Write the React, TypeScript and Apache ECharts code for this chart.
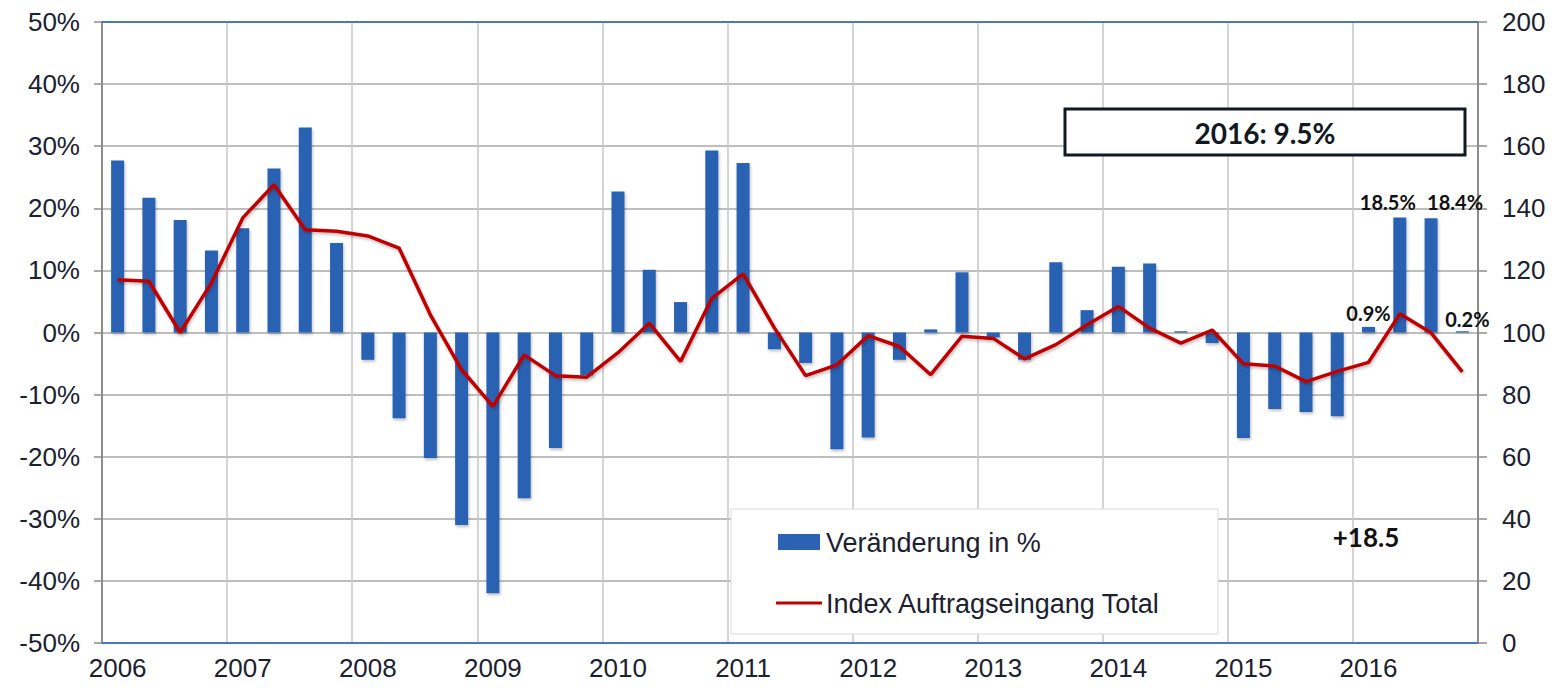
import React, { useEffect, useRef } from "react";
import * as echarts from "echarts";

const years = ["2006", "2007", "2008", "2009", "2010", "2011", "2012", "2013", "2014", "2015", "2016"];
const quarters = ["Q1", "Q2", "Q3", "Q4"];

// Veränderung in % (quarterly)
const change = [
  27.7, 21.7, 18.1, 13.2,
  16.8, 26.4, 33.0, 14.4,
  -4.4, -13.8, -20.2, -31.0,
  -42.0, -26.7, -18.6, -6.9,
  22.7, 10.1, 4.9, 29.3,
  27.3, -2.7, -4.9, -18.8,
  -16.9, -4.4, 0.5, 9.7,
  -0.8, -4.4, 11.3, 3.6,
  10.6, 11.1, 0.2, -1.7,
  -17.0, -12.3, -12.8, -13.5,
  0.9, 18.5, 18.4, 0.2,
];

// Index Auftragseingang Total (quarterly)
const indexTotal = [
  117.0, 116.5, 100.0, 116.0,
  136.9, 147.6, 133.1, 132.6,
  131.1, 127.2, 105.7, 88.0,
  76.2, 92.8, 86.1, 85.6,
  93.5, 103.0, 90.7, 111.0,
  118.9, 101.5, 86.1, 89.6,
  99.0, 95.5, 86.4, 98.8,
  98.1, 91.5, 96.1, 102.5,
  108.4, 101.4, 96.6, 100.8,
  89.9, 89.2, 84.2, 87.5,
  90.4, 106.0, 99.9, 87.3,
];

const leftTicks = { min: -50, max: 50, step: 10 };
const rightTicks = { min: 0, max: 200, step: 20 };

const seriesNames = ["Veränderung in %", "Index Auftragseingang Total"];
const boxText = "2016: 9.5%";
const noteText = "+18.5";

const labeledBars = [40, 41, 42, 43];

const categories: string[] = [];
years.forEach((y) => quarters.forEach((q) => categories.push(y + " " + q)));

export default function App() {
  const ref = useRef<HTMLDivElement>(null);

  useEffect(() => {
    if (!ref.current) return;
    const chart = echarts.init(ref.current, null, { renderer: "svg" });

    const labelOffsets: Record<number, number[]> = {
      40: [0, 2],
      41: [-12, 0],
      42: [24, 0],
      43: [5, 4],
    };

    const barData = change.map((v, i) => {
      if (labeledBars.indexOf(i) >= 0) {
        return {
          value: v,
          label: {
            show: true,
            position: "top",
            distance: 6,
            offset: labelOffsets[i],
            formatter: (p: any) => p.value + "%",
            fontFamily: "Lato, 'Open Sans', sans-serif",
            fontWeight: "bold",
            fontSize: 20,
            color: "#111111",
          },
        };
      }
      return v;
    });

    const axisFont = {
      fontFamily: "'Liberation Sans', Arial, Helvetica, sans-serif",
      fontSize: 26,
      color: "#1b2130",
    };

    chart.setOption({
      animation: false,
      backgroundColor: "#ffffff",
      grid: { left: 102, right: 78, top: 22, bottom: 49, containLabel: false },
      xAxis: [
        {
          type: "category",
          data: categories,
          position: "bottom",
          boundaryGap: true,
          axisLine: { show: true, onZero: false, lineStyle: { color: "#4a78bd", width: 2 } },
          axisTick: { show: false },
          axisLabel: {
            interval: 3,
            margin: 12,
            formatter: (v: string) => v.slice(0, 4),
            ...axisFont,
          },
          splitLine: { show: true, interval: 3, lineStyle: { color: "#c6c6c6", width: 1.5 } },
        },
        {
          type: "category",
          data: categories,
          position: "top",
          boundaryGap: true,
          axisLine: { show: true, onZero: false, lineStyle: { color: "#4a78bd", width: 2 } },
          axisTick: { show: false },
          axisLabel: { show: false },
          splitLine: { show: false },
        },
      ],
      yAxis: [
        {
          type: "value",
          position: "left",
          min: leftTicks.min,
          max: leftTicks.max,
          interval: leftTicks.step,
          axisLine: { show: true, onZero: false, lineStyle: { color: "#8c8c8c", width: 2 } },
          axisTick: { show: true, inside: false, length: 8, lineStyle: { color: "#8c8c8c", width: 1.5 } },
          axisLabel: { formatter: "{value}%", margin: 22, ...axisFont },
          splitLine: { show: true, lineStyle: { color: "#a8a8a8", width: 1.5 } },
        },
        {
          type: "value",
          position: "right",
          min: rightTicks.min,
          max: rightTicks.max,
          interval: rightTicks.step,
          axisLine: { show: true, onZero: false, lineStyle: { color: "#8c8c8c", width: 2 } },
          axisTick: { show: true, inside: false, length: 9, lineStyle: { color: "#8c8c8c", width: 1.5 } },
          axisLabel: { margin: 24, ...axisFont },
          splitLine: { show: false },
        },
      ],
      series: [
        {
          name: seriesNames[0],
          type: "bar",
          xAxisIndex: 0,
          yAxisIndex: 0,
          data: barData,
          barWidth: 13,
          itemStyle: {
            color: "#2b62b3",
            shadowBlur: 3,
            shadowColor: "rgba(0,0,0,0.25)",
            shadowOffsetX: 1,
            shadowOffsetY: 2,
          },
          z: 2,
        },
        {
          name: seriesNames[1],
          type: "line",
          xAxisIndex: 0,
          yAxisIndex: 1,
          data: indexTotal,
          showSymbol: false,
          symbol: "none",
          smooth: false,
          lineStyle: {
            color: "#c00000",
            width: 3.5,
            shadowBlur: 3,
            shadowColor: "rgba(0,0,0,0.25)",
            shadowOffsetX: 1,
            shadowOffsetY: 2,
          },
          itemStyle: { color: "#c00000" },
          z: 3,
        },
      ],
      graphic: [
        {
          type: "rect",
          shape: { x: 1065, y: 109, width: 400, height: 46 },
          style: { fill: "#ffffff", stroke: "#111922", lineWidth: 3 },
          z: 10,
        },
        {
          type: "text",
          x: 1265,
          y: 133,
          style: {
            text: boxText,
            fontFamily: "Lato, 'Open Sans', sans-serif",
            fontWeight: "bold",
            fontSize: 28,
            fill: "#111922",
            align: "center",
            verticalAlign: "middle",
          },
          z: 11,
        },
        {
          type: "rect",
          shape: { x: 731, y: 509, width: 487, height: 125 },
          style: { fill: "#ffffff", stroke: "#d9d9d9", lineWidth: 1 },
          z: 10,
        },
        {
          type: "rect",
          shape: { x: 778, y: 534, width: 42, height: 16 },
          style: { fill: "#2b62b3" },
          z: 11,
        },
        {
          type: "text",
          x: 826,
          y: 543,
          style: {
            text: seriesNames[0],
            fontFamily: "'Liberation Sans', Arial, sans-serif",
            fontSize: 27,
            fill: "#1b2130",
            align: "left",
            verticalAlign: "middle",
          },
          z: 11,
        },
        {
          type: "line",
          shape: { x1: 776, y1: 603, x2: 822, y2: 603 },
          style: { stroke: "#c00000", lineWidth: 3 },
          z: 11,
        },
        {
          type: "text",
          x: 826,
          y: 604,
          style: {
            text: seriesNames[1],
            fontFamily: "'Liberation Sans', Arial, sans-serif",
            fontSize: 27,
            fill: "#1b2130",
            align: "left",
            verticalAlign: "middle",
          },
          z: 11,
        },
        {
          type: "text",
          x: 1366,
          y: 537,
          style: {
            text: noteText,
            fontFamily: "Lato, 'Open Sans', sans-serif",
            fontWeight: "bold",
            fontSize: 26,
            fill: "#111111",
            align: "center",
            verticalAlign: "middle",
          },
          z: 11,
        },
      ],
    });

    return () => chart.dispose();
  }, []);

  return (
    <div
      ref={ref}
      style={{ position: "fixed", left: 0, top: 0, width: 1556, height: 692 }}
    />
  );
}
